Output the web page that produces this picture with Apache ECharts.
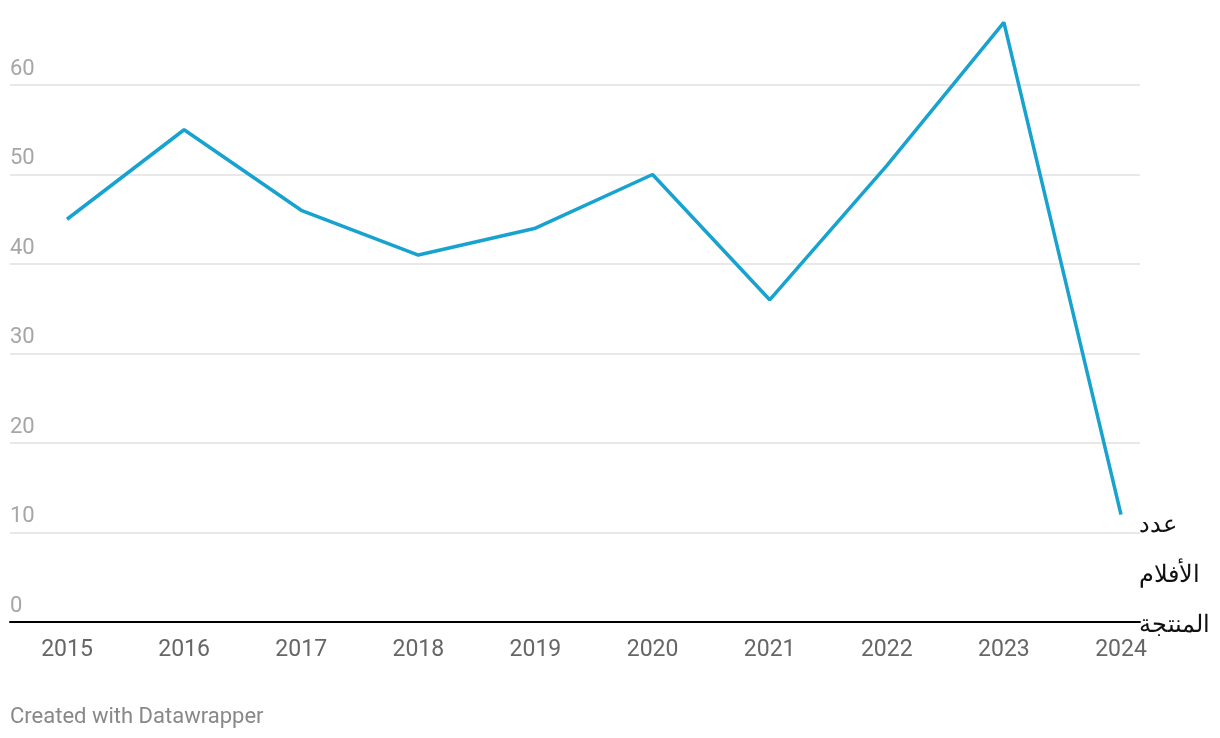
<!DOCTYPE html>
<html><head><meta charset="utf-8">
<script src="https://cdn.jsdelivr.net/npm/echarts@6/dist/echarts.min.js"></script>
<style>html,body{margin:0;padding:0;background:#fff}#c{width:1220px;height:738px}</style>
</head><body><div id="c"></div>
<script>
const years = ['2015','2016','2017','2018','2019','2020','2021','2022','2023','2024'];
const films = [45, 55, 46, 41, 44, 50, 36, 51, 67, 12];
const seriesName = 'عدد الأفلام المنتجة';
const labelLines = ['عدد', 'الأفلام', 'المنتجة'];
const yTicks = [0, 10, 20, 30, 40, 50, 60];

const chart = echarts.init(document.getElementById('c'));
const FONT = 'Roboto';
chart.setOption({
  animation: false,
  textStyle: { fontFamily: FONT },
  grid: [
    { left: 10, right: 80, top: 85, bottom: 116, containLabel: false },
    { left: 67, right: 99, top: 85, bottom: 116, containLabel: false }
  ],
  xAxis: [
    { gridIndex: 0, type: 'value', min: 0, max: 1, show: true,
      axisLine: { show: true, onZero: false, lineStyle: { color: '#000', width: 2 } },
      axisTick: { show: false }, axisLabel: { show: false }, splitLine: { show: false } },
    { gridIndex: 1, type: 'category', data: years, boundaryGap: false,
      axisLine: { show: false }, axisTick: { show: false },
      axisLabel: { color: '#666', fontSize: 23, fontFamily: FONT, margin: 17 } }
  ],
  yAxis: [
    { gridIndex: 0, type: 'value', min: 0, max: 60, interval: 10,
      axisLine: { show: false }, axisTick: { show: false },
      splitLine: { show: true, lineStyle: { color: '#e0e0e0', width: 1.5 } },
      axisLabel: { inside: true, margin: 0, color: '#a6a6a6', fontSize: 22, fontFamily: FONT,
        verticalAlign: 'bottom', padding: [0, 0, 5, 0],
        formatter: v => yTicks.includes(v) ? String(v) : '' } },
    { gridIndex: 1, type: 'value', min: 0, max: 60, interval: 10, show: false }
  ],
  series: [{
    name: seriesName, type: 'line', xAxisIndex: 1, yAxisIndex: 1,
    data: films, clip: false, symbol: 'none',
    lineStyle: { color: '#18a2cf', width: 3.5 },
    endLabel: { show: true, formatter: () => labelLines.join('\n'),
      color: '#111', fontSize: 23.5, fontFamily: FONT, lineHeight: 50,
      align: 'left', verticalAlign: 'top', distance: 18, offset: [0, -13] }
  }],
  graphic: [{ type: 'text', left: 10, top: 706,
    style: { text: 'Created with Datawrapper', fill: '#888', fontSize: 22, fontFamily: FONT } }]
});
</script></body></html>
